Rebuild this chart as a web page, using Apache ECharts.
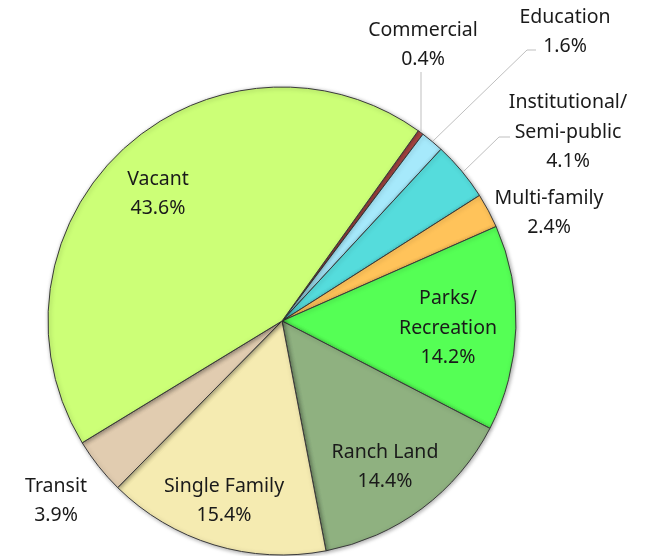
<!DOCTYPE html>
<html><head><meta charset="utf-8">
<script src="https://cdn.jsdelivr.net/npm/echarts@6/dist/echarts.min.js"></script>
<style>html,body{margin:0;padding:0;background:#fff}#c{width:658px;height:556px}</style>
</head><body><div id="c"></div>
<script>
const categories = ['Commercial','Education','Institutional/\nSemi-public','Multi-family','Parks/\nRecreation','Ranch Land','Single Family','Transit','Vacant'];
const values = [0.4, 1.6, 4.1, 2.4, 14.2, 14.4, 15.4, 3.9, 43.6];
const colors = ['#c0504d','#a6e9fb','#55dcdc','#ffc35a','#55ff55','#8fb180','#f5ebb1','#e1ccb0','#ccff77'];
// label centre positions (layout only)
const labelPos = {
  'Commercial': [423, 45],
  'Education': [565, 32],
  'Institutional/\nSemi-public': [568, 132],
  'Multi-family': [549, 213],
  'Parks/\nRecreation': [448, 328],
  'Ranch Land': [385, 467],
  'Single Family': [224, 501],
  'Transit': [56, 501],
  'Vacant': [158, 194]
};
const leaders = {
  'Commercial': [[421,131],[421,72]],
  'Education': [[433,141],[527,50],[536,50]],
  'Institutional/\nSemi-public': [[464,171],[499,137],[510,137]]
};
const chart = echarts.init(document.getElementById('c'), null, {renderer:'canvas'});
const data = categories.map((n,i)=>({name:n, value:values[i], itemStyle:{color:colors[i]}}));
chart.setOption({
  animation:false,
  series:[{
    type:'pie',
    center:[282,321],
    radius:[0,234],
    startAngle:54.4,
    clockwise:true,
    avoidLabelOverlap:false,
    data:data,
    itemStyle:{borderColor:'#3a3a3a', borderWidth:1, shadowColor:'rgba(0,0,0,0.35)', shadowBlur:4, shadowOffsetX:1, shadowOffsetY:1},
    label:{
      show:true, position:'inside',
      formatter:p=>p.name+'\n'+p.value.toFixed(1)+'%',
      fontFamily:'Noto Sans', fontSize:19.5, color:'#1a1a1a', lineHeight:29.5, align:'center'
    },
    labelLine:{show:false},
    labelLayout:function(params){
      const n = data[params.dataIndex].name;
      const p = labelPos[n];
      return {x:p[0], y:p[1], align:'center', verticalAlign:'middle', draggable:false};
    }
  }],
  graphic: Object.keys(leaders).map(k=>({type:'polyline', shape:{points:leaders[k]}, style:{stroke:'#bfbfbf', lineWidth:1, fill:null}, z:10}))
});
</script></body></html>
